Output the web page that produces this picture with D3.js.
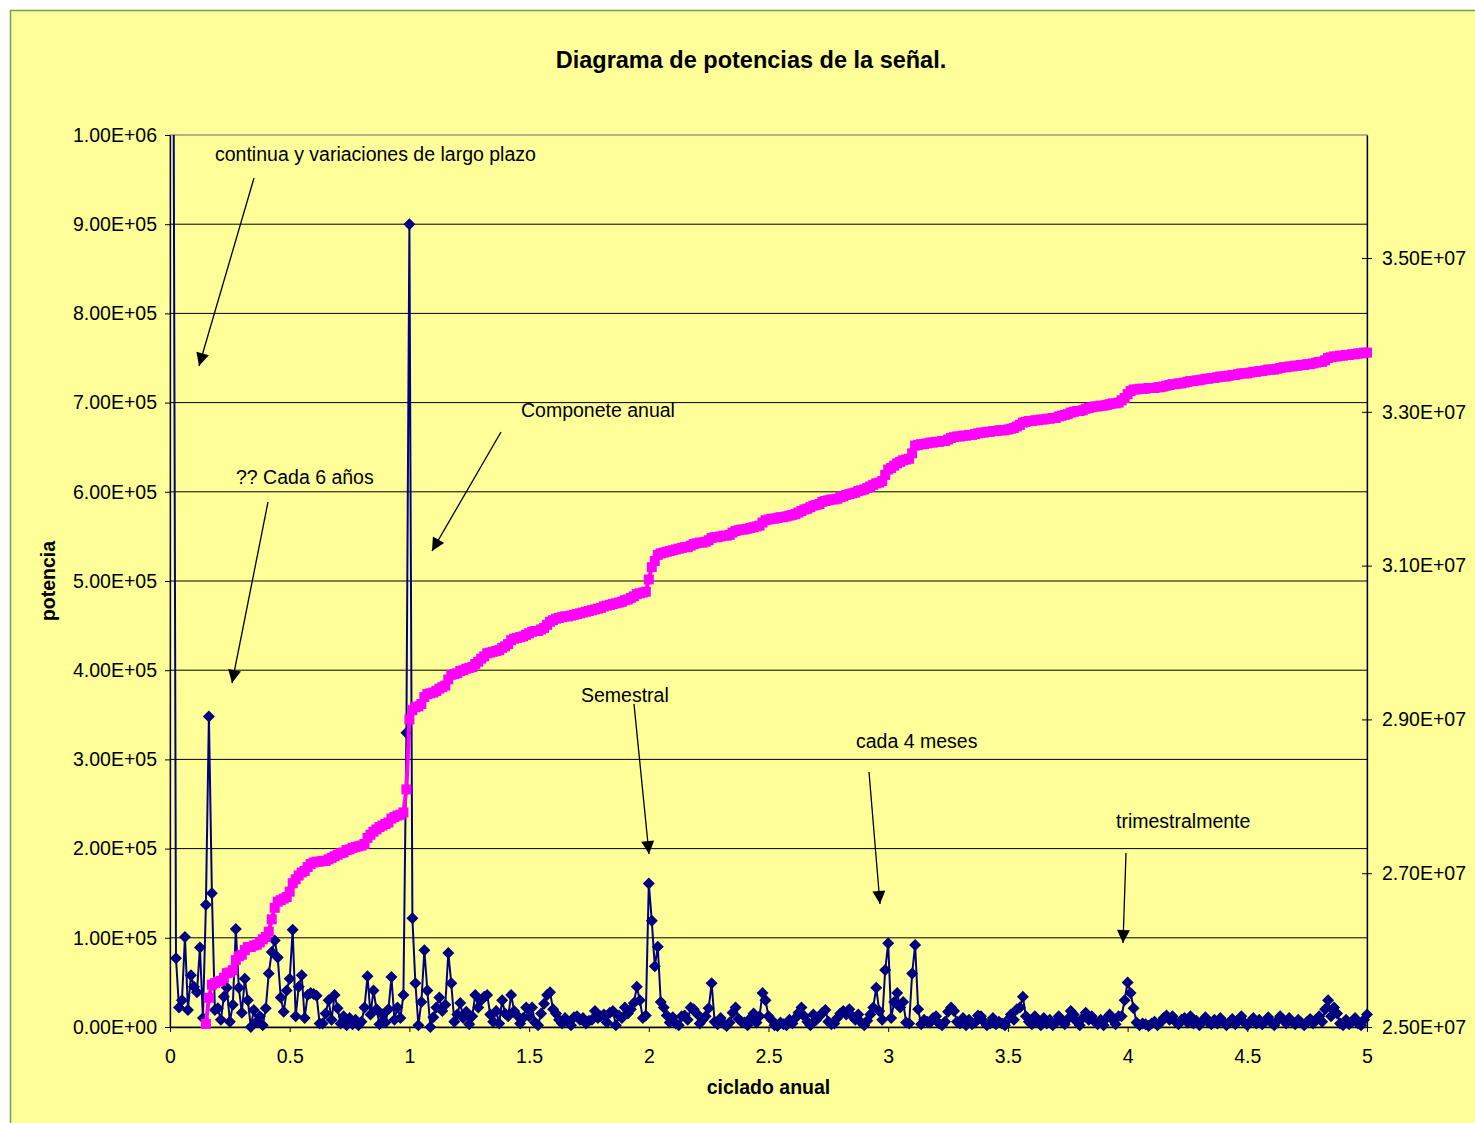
<!DOCTYPE html>
<html>
<head>
<meta charset="utf-8">
<script src="https://cdn.jsdelivr.net/npm/d3@7"></script>
<style>
  body { margin: 0; background: #fff; }
  svg text { font-family: "Liberation Sans", Arial, sans-serif; fill: #000; }
</style>
</head>
<body>
<svg id="chart" width="1475" height="1123"></svg>
<script>
// spectrum step, cycles per year (960 monthly samples -> 12/960)
const paso = 0.0125

// potencia (blue, left axis), in thousands
const potencia = [
  2500,1300,77,22,30,101,19,58,45,39, 89,10,137,348,150,19,21,8,34,44,
  6,25,110,44,16,54,30,0,19,6, 12,2,21,60,84,97,78,33,17,41,
  54,109,12,45,58,10,36,38,37,35, 4,4,15,30,8,36,21,4,12,2,
  10,3,8,2,6,22,57,14,41,20, 3,14,5,20,56,8,22,10,36,330,
  900,122,49,2,28,86,41,0,11,22, 33,18,25,83,49,6,14,27,10,17,
  3,12,36,22,30,34,36,14,6,18, 4,30,15,12,36,18,13,4,10,22,
  12,22,5,2,15,26,36,39,20,15, 8,4,10,6,2,11,12,8,10,4,
  7,8,18,10,12,14,5,16,18,2, 13,10,22,15,20,27,45,30,10,13,
  161,119,68,90,28,22,13,5,11,4, 2,12,13,8,22,20,15,4,8,12,
  21,49,6,3,10,4,1,5,16,22, 9,6,5,2,10,15,5,12,38,30,
  12,8,2,1,5,3,2,8,4,10, 16,22,12,6,2,14,8,12,16,19,
  6,3,4,10,15,18,14,20,12,8, 14,5,2,7,14,22,44,18,8,64,
  94,10,28,38,22,28,5,4,60,92, 20,3,8,6,5,10,12,4,2,6,
  17,22,18,6,4,10,2,8,3,5, 13,12,6,2,4,10,3,6,4,2,
  8,14,8,20,22,34,12,6,3,12, 6,2,10,4,8,2,5,12,6,3,
  9,18,14,6,2,10,16,8,12,6, 3,8,2,10,14,8,3,12,12,30,
  50,38,21,5,2,4,3,1,4,6, 2,5,10,13,8,12,6,3,8,10,
  5,12,4,7,2,6,11,5,3,8, 4,10,6,2,5,9,3,7,12,5,
  2,6,10,4,8,3,6,11,5,2, 7,12,8,4,10,6,3,8,5,2,
  6,9,4,8,12,6,20,30,12,22, 15,4,2,8,3,6,10,4,2,8,
  14
]

// accumulated power (pink, right axis), in millions; starts at 0.15
const acumulada = [
  null,null,null,null,null,null,null,null,null,null, null,null,25.04,25.38,25.55,25.57,25.59,25.60,25.64,25.70,
  25.71,25.74,25.87,25.92,25.94,26.00,26.04,26.04,26.06,26.07, 26.10,26.14,26.17,26.24,26.40,26.55,26.63,26.65,26.67,26.69,
  26.76,26.87,26.92,26.97,27.01,27.03,27.08,27.12,27.14,27.15, 27.15,27.16,27.16,27.18,27.20,27.22,27.24,27.26,27.27,27.30,
  27.31,27.33,27.34,27.35,27.36,27.38,27.46,27.50,27.54,27.57, 27.60,27.62,27.64,27.66,27.71,27.73,27.75,27.76,27.79,28.09,
  29.00,29.12,29.16,29.17,29.20,29.29,29.33,29.34,29.35,29.37, 29.40,29.42,29.44,29.52,29.58,29.59,29.60,29.63,29.64,29.66,
  29.67,29.68,29.72,29.75,29.79,29.82,29.86,29.87,29.88,29.89, 29.90,29.93,29.95,29.98,30.03,30.05,30.06,30.07,30.08,30.10,
  30.12,30.14,30.15,30.15,30.17,30.19,30.23,30.27,30.29,30.31, 30.32,30.33,30.34,30.34,30.35,30.36,30.37,30.38,30.39,30.40,
  30.41,30.42,30.43,30.44,30.45,30.47,30.48,30.49,30.50,30.51, 30.52,30.53,30.55,30.56,30.58,30.60,30.63,30.64,30.65,30.66,
  30.82,30.98,31.06,31.14,31.16,31.17,31.18,31.19,31.20,31.21, 31.22,31.23,31.24,31.24,31.26,31.28,31.29,31.30,31.30,31.31,
  31.33,31.36,31.37,31.37,31.38,31.39,31.39,31.40,31.43,31.45, 31.46,31.47,31.47,31.48,31.49,31.50,31.51,31.52,31.56,31.59,
  31.60,31.61,31.61,31.62,31.63,31.63,31.64,31.65,31.66,31.67, 31.69,31.71,31.73,31.74,31.76,31.78,31.79,31.80,31.83,31.84,
  31.85,31.86,31.86,31.87,31.89,31.90,31.92,31.93,31.94,31.95, 31.97,31.98,31.99,32.01,32.03,32.05,32.07,32.08,32.10,32.18,
  32.25,32.27,32.30,32.33,32.35,32.37,32.38,32.39,32.46,32.56, 32.57,32.58,32.58,32.59,32.60,32.60,32.61,32.61,32.62,32.62,
  32.64,32.66,32.67,32.68,32.68,32.69,32.69,32.70,32.70,32.71, 32.72,32.73,32.73,32.74,32.74,32.75,32.75,32.76,32.76,32.76,
  32.77,32.78,32.79,32.81,32.83,32.86,32.87,32.88,32.88,32.89, 32.89,32.90,32.90,32.91,32.91,32.92,32.92,32.94,32.95,32.96,
  32.97,32.99,33.00,33.01,33.01,33.02,33.04,33.05,33.06,33.07, 33.07,33.08,33.08,33.09,33.10,33.11,33.11,33.12,33.15,33.18,
  33.23,33.27,33.29,33.29,33.30,33.30,33.30,33.31,33.31,33.31, 33.32,33.32,33.33,33.34,33.35,33.36,33.36,33.37,33.37,33.38,
  33.39,33.40,33.40,33.41,33.41,33.42,33.43,33.43,33.44,33.44, 33.45,33.46,33.46,33.46,33.47,33.48,33.48,33.49,33.50,33.50,
  33.50,33.51,33.52,33.52,33.53,33.53,33.54,33.55,33.55,33.55, 33.56,33.57,33.58,33.58,33.59,33.59,33.60,33.60,33.61,33.61,
  33.62,33.62,33.63,33.64,33.65,33.65,33.67,33.70,33.71,33.72, 33.72,33.73,33.73,33.74,33.74,33.75,33.75,33.76,33.76,33.77,
  33.77
]

const ticksX   = [0, 0.5, 1, 1.5, 2, 2.5, 3, 3.5, 4, 4.5, 5]
const ticksIzq = [0, 100, 200, 300, 400, 500, 600, 700, 800, 900, 1000]
const ticksDer = [25, 27, 29, 31, 33, 35]

// annotations, page pixels: text anchor and arrow from (x1,y1) to tip (x2,y2)
const notas = [
  { texto: 'continua y variaciones de largo plazo', tx: 215, ty: 156, x1: 254, y1: 178, x2: 199, y2: 366 },
  { texto: 'Componete anual',  tx: 521,  ty: 412, x1: 501,  y1: 432, x2: 432,  y2: 551 },
  { texto: '?? Cada 6 años',   tx: 236,  ty: 479, x1: 268,  y1: 502, x2: 232,  y2: 683 },
  { texto: 'Semestral',        tx: 581,  ty: 697, x1: 634,  y1: 704, x2: 649,  y2: 854 },
  { texto: 'cada 4 meses',     tx: 856,  ty: 743, x1: 869,  y1: 772, x2: 880,  y2: 904 },
  { texto: 'trimestralmente',  tx: 1116, ty: 823, x1: 1126, y1: 853, x2: 1123, y2: 943 }
]

const margin = { top: 135, left: 170 }
const width  = 1197
const height = 892

const datos = potencia.map((p, i) => ({ f: i * paso, p: p, a: acumulada[i] }))

const xScale    = d3.scaleLinear().domain([0, 5]).range([0, width])
const yIzqScale = d3.scaleLinear().domain([0, 1000]).range([height, 0])
const yDerScale = d3.scaleLinear().domain([25, 36.6]).range([height, 0])

// Excel style scientific labels: 1.00E+06
function sci(v) {
  const [m, e] = v.toExponential(2).split('e')
  const n = +e
  return m + 'E' + (n < 0 ? '-' : '+') + String(Math.abs(n)).padStart(2, '0')
}

const svg = d3.select('#chart')

// chart area
svg.append('rect')
  .attr('x', 10.5).attr('y', 10.5)
  .attr('width', 1480).attr('height', 1130)
  .attr('fill', '#FFFF99')
  .attr('stroke', '#6f9f4f')
  .attr('stroke-width', 1.5)

const defs = svg.append('defs')
defs.append('clipPath').attr('id', 'clip-lineas')
  .append('rect').attr('width', width).attr('height', height)
defs.append('clipPath').attr('id', 'clip-marcas')
  .append('rect').attr('x', -7).attr('y', -2).attr('width', width + 14).attr('height', height + 10)
defs.append('marker')
  .attr('id', 'flecha')
  .attr('viewBox', '0 0 10 10')
  .attr('refX', 10).attr('refY', 5)
  .attr('markerWidth', 17).attr('markerHeight', 13)
  .attr('markerUnits', 'userSpaceOnUse')
  .attr('orient', 'auto')
  .append('path').attr('d', 'M0,0 L10,5 L0,10 Z').attr('fill', '#000')

svg.append('text')
  .attr('x', 751).attr('y', 62)
  .attr('text-anchor', 'middle')
  .attr('dominant-baseline', 'middle')
  .style('font-size', '23.5px')
  .style('font-weight', 'bold')
  .text('Diagrama de potencias de la señal.')

const g = svg.append('g').attr('transform', `translate(${margin.left},${margin.top})`)

// plot border (grey) and gridlines (black)
g.append('rect')
  .attr('width', width).attr('height', height)
  .attr('fill', 'none').attr('stroke', '#808080').attr('stroke-width', 1.2)

g.selectAll('.grid')
  .data(ticksIzq.filter(d => d > 0 && d < 1000))
  .join('line')
  .attr('class', 'grid')
  .attr('x1', 0).attr('x2', width)
  .attr('y1', d => yIzqScale(d)).attr('y2', d => yIzqScale(d))
  .attr('stroke', '#000').attr('stroke-width', 1)

// axes
const axisIzq = g.append('g')
  .call(d3.axisLeft(yIzqScale).tickValues(ticksIzq).tickSize(5).tickSizeOuter(0).tickPadding(8)
    .tickFormat(d => sci(d * 1000)))
const axisDer = g.append('g')
  .attr('transform', `translate(${width},0)`)
  .call(d3.axisRight(yDerScale).tickValues(ticksDer).tickSize(5).tickSizeOuter(0).tickPadding(10)
    .tickFormat(d => sci(d * 1e6)))
axisDer.selectAll('.tick line').attr('x1', -5)
const axisX = g.append('g')
  .attr('transform', `translate(0,${height})`)
  .call(d3.axisBottom(xScale).tickValues(ticksX).tickSize(5).tickSizeOuter(0).tickPadding(17)
    .tickFormat(d => d))

;[axisIzq, axisDer, axisX].forEach(a => {
  a.select('.domain').attr('stroke', '#000').attr('stroke-width', 1.3)
  a.selectAll('.tick line').attr('stroke', '#000')
  a.selectAll('text')
    .style('font-size', '19.5px')
    .style('font-family', '"Liberation Sans", Arial, sans-serif')
    .attr('fill', '#000')
})

// blue series
const lineaP = d3.line().x(d => xScale(d.f)).y(d => yIzqScale(d.p))
g.append('path')
  .datum(datos)
  .attr('clip-path', 'url(#clip-lineas)')
  .attr('d', lineaP)
  .attr('fill', 'none')
  .attr('stroke', '#000080')
  .attr('stroke-width', 2)

g.append('g')
  .attr('clip-path', 'url(#clip-marcas)')
  .selectAll('path')
  .data(datos)
  .join('path')
  .attr('d', 'M0,-6L6,0L0,6L-6,0Z')
  .attr('transform', d => `translate(${xScale(d.f)},${yIzqScale(d.p)})`)
  .attr('fill', '#000080')

// pink series (accumulated)
const conA = datos.filter(d => d.a != null)
const lineaA = d3.line().x(d => xScale(d.f)).y(d => yDerScale(d.a))
g.append('path')
  .datum(conA)
  .attr('d', lineaA)
  .attr('fill', 'none')
  .attr('stroke', '#FF00FF')
  .attr('stroke-width', 4)

g.append('g')
  .selectAll('rect')
  .data(conA)
  .join('rect')
  .attr('x', d => xScale(d.f) - 5)
  .attr('y', d => yDerScale(d.a) - 5)
  .attr('width', 10).attr('height', 10)
  .attr('fill', '#FF00FF')

// axis titles
svg.append('text')
  .attr('x', margin.left + width / 2).attr('y', 1089)
  .attr('text-anchor', 'middle')
  .attr('dominant-baseline', 'middle')
  .style('font-size', '19.5px').style('font-weight', 'bold')
  .text('ciclado anual')

svg.append('text')
  .attr('transform', `translate(50,${margin.top + height / 2}) rotate(-90)`)
  .attr('text-anchor', 'middle')
  .attr('dominant-baseline', 'middle')
  .style('font-size', '19.5px').style('font-weight', 'bold')
  .text('potencia')

// annotations with arrows
const nota = svg.append('g').selectAll('g').data(notas).join('g')
nota.append('line')
  .attr('x1', d => d.x1).attr('y1', d => d.y1)
  .attr('x2', d => d.x2).attr('y2', d => d.y2)
  .attr('stroke', '#000').attr('stroke-width', 1.3)
  .attr('marker-end', 'url(#flecha)')
nota.append('text')
  .attr('x', d => d.tx).attr('y', d => d.ty)
  .attr('dominant-baseline', 'middle')
  .style('font-size', '19.5px')
  .text(d => d.texto)
</script>
</body>
</html>
